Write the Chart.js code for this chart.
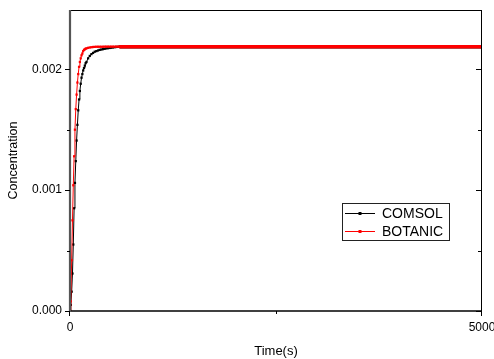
<!DOCTYPE html>
<html>
<head>
<meta charset="utf-8">
<script src="https://cdn.jsdelivr.net/npm/chart.js@4.4.0/dist/chart.umd.min.js"></script>
<style>
  html, body { margin: 0; padding: 0; background: #fff; }
</style>
</head>
<body>
<canvas id="chart" width="494" height="359"></canvas>
<script>
// time samples (s)
var times = [0, 10, 20, 30, 40, 50, 60, 70, 80, 90, 100, 110, 120, 130, 140, 150, 160, 170, 180, 190, 200,
  220, 240, 260, 280, 300, 320, 340, 360, 380, 400, 420, 440, 460, 480, 500, 520, 540, 560, 580, 600,
  700, 800, 900, 1000, 1500, 2000, 2500, 3000, 3500, 4000, 4500, 5000];

// concentration
var comsol = [0, 0.00005, 0.00016, 0.00031, 0.00055, 0.00085, 0.00106, 0.00124, 0.00141, 0.00154, 0.00166,
  0.00175, 0.00182, 0.00188, 0.00193, 0.00196, 0.00199, 0.00201, 0.00203, 0.00205, 0.00206,
  0.00209, 0.00211, 0.002125, 0.002135, 0.002145, 0.00215, 0.002155, 0.00216, 0.002163, 0.002166,
  0.002169, 0.002172, 0.002174, 0.002176, 0.002178, 0.00218, 0.002182, 0.002184, 0.002185, 0.002186,
  0.002187, 0.002187, 0.002187, 0.002187, 0.002187, 0.002187, 0.002187, 0.002187, 0.002187, 0.002187, 0.002187, 0.002187];

var botanic = [0, 0.00008, 0.00042, 0.00075, 0.00104, 0.00128, 0.0015, 0.00167, 0.00179, 0.00189, 0.00196,
  0.00202, 0.00206, 0.00209, 0.002115, 0.00213, 0.00215, 0.00216, 0.002165, 0.00217, 0.002173,
  0.002177, 0.00218, 0.002182, 0.002184, 0.002185, 0.002186, 0.002186, 0.002186, 0.002186, 0.002186,
  0.002187, 0.002187, 0.002187, 0.002187, 0.002187, 0.002187, 0.002187, 0.002187, 0.002187, 0.002187,
  0.002187, 0.002187, 0.002187, 0.002187, 0.002187, 0.002187, 0.002187, 0.002187, 0.002187, 0.002187, 0.002187, 0.002187];

var seriesNames = ['COMSOL', 'BOTANIC'];
var xMajor = [0, 5000];
var xMinor = [2500];
var yMajor = [0, 0.001, 0.002];
var yMinor = [0.0005, 0.0015];

Chart.defaults.font.family = '"Liberation Sans", Arial, sans-serif';
Chart.defaults.color = '#000';

function pts(vals) {
  return times.map(function (t, i) { return { x: t, y: vals[i] }; });
}

var pointR = function (c) { return (c.raw && c.raw.x > 600) ? 0 : 1.6; };
var segW = { borderWidth: function (c) { return c.p0.parsed.x >= 600 ? 3.5 : 1; } };

// axes box, ticks and legend like the Origin plot
var framePlugin = {
  id: 'frame',
  afterDraw: function (chart) {
    var ctx = chart.ctx, a = chart.chartArea;
    var xs = chart.scales.x, ys = chart.scales.y;
    ctx.save();
    ctx.strokeStyle = '#000';
    ctx.lineWidth = 1;
    ctx.beginPath();
    ctx.moveTo(a.left, a.top + 0.5); ctx.lineTo(a.right, a.top + 0.5);
    ctx.moveTo(a.right - 0.5, a.top); ctx.lineTo(a.right - 0.5, a.bottom);
    ctx.stroke();
    ctx.lineWidth = 1.5;
    ctx.beginPath();
    ctx.moveTo(a.left, a.bottom); ctx.lineTo(a.right, a.bottom);
    ctx.stroke();
    ctx.strokeStyle = '#555';
    ctx.lineWidth = 2.2;
    ctx.beginPath();
    ctx.moveTo(a.left, a.top); ctx.lineTo(a.left, a.bottom + 1);
    ctx.stroke();

    ctx.strokeStyle = '#000';
    ctx.lineWidth = 1;
    ctx.beginPath();
    yMajor.forEach(function (v) {
      var y = Math.round(ys.getPixelForValue(v)) + 0.5;
      ctx.moveTo(a.left - 5, y); ctx.lineTo(a.left, y);
      ctx.moveTo(a.right - 6, y); ctx.lineTo(a.right, y);
    });
    yMinor.forEach(function (v) {
      var y = Math.round(ys.getPixelForValue(v)) + 0.5;
      ctx.moveTo(a.left - 3, y); ctx.lineTo(a.left, y);
      ctx.moveTo(a.right - 4, y); ctx.lineTo(a.right, y);
    });
    xMajor.forEach(function (v) {
      var x = Math.round(xs.getPixelForValue(v)) - 0.5;
      ctx.moveTo(x, a.bottom); ctx.lineTo(x, a.bottom + 5);
    });
    xMinor.forEach(function (v) {
      var x = Math.round(xs.getPixelForValue(v)) + 0.5;
      ctx.moveTo(x, a.bottom); ctx.lineTo(x, a.bottom + 3);
    });
    ctx.stroke();

    // legend
    var lx = 342.5, ly = 203.5, lw = 107, lh = 37;
    ctx.fillStyle = '#fff';
    ctx.fillRect(lx, ly, lw, lh);
    ctx.strokeStyle = '#222';
    ctx.lineWidth = 1;
    ctx.strokeRect(lx, ly, lw, lh);
    var cols = ['#000', '#ff0000'];
    var rows = [213.5, 231.5];
    ctx.font = '14px "Liberation Sans", Arial, sans-serif';
    ctx.textBaseline = 'middle';
    ctx.textAlign = 'left';
    seriesNames.forEach(function (n, i) {
      ctx.strokeStyle = cols[i];
      ctx.beginPath();
      ctx.moveTo(345, rows[i]); ctx.lineTo(375, rows[i]);
      ctx.stroke();
      ctx.fillStyle = cols[i];
      ctx.fillRect(358.5, rows[i] - 1.5, 3, 3);
      ctx.fillStyle = '#000';
      ctx.fillText(n, 382, rows[i] + 0.5);
    });
    ctx.restore();
  }
};

new Chart(document.getElementById('chart'), {
  type: 'line',
  data: {
    datasets: [
      {
        label: seriesNames[1],
        data: pts(botanic),
        borderColor: '#ff0000',
        backgroundColor: '#ff0000',
        borderWidth: 1,
        pointStyle: 'rect',
        pointRadius: pointR,
        pointBorderWidth: 0,
        segment: segW
      },
      {
        label: seriesNames[0],
        data: pts(comsol),
        borderColor: '#000',
        backgroundColor: '#000',
        borderWidth: 1,
        pointStyle: 'rect',
        pointRadius: pointR,
        pointBorderWidth: 0,
        segment: segW
      }
    ]
  },
  options: {
    responsive: false,
    animation: false,
    layout: { padding: { top: 10, right: 12, left: 0, bottom: 0 } },
    plugins: { legend: { display: false }, tooltip: { enabled: false } },
    scales: {
      x: {
        type: 'linear',
        min: 0,
        max: 5000,
        afterBuildTicks: function (s) { s.ticks = xMajor.map(function (v) { return { value: v }; }); },
        afterFit: function (s) { s.height = 48; s.paddingLeft = 0; s.paddingRight = 0; },
        ticks: { font: { size: 12 }, padding: 9, maxRotation: 0, callback: function (v) { return String(v); } },
        grid: { display: false, drawTicks: false },
        border: { display: false },
        title: { display: true, text: 'Time(s)', font: { size: 13 }, padding: { top: 0, bottom: 0 } }
      },
      y: {
        min: 0,
        max: 0.00249,
        afterBuildTicks: function (s) { s.ticks = yMajor.map(function (v) { return { value: v }; }); },
        afterFit: function (s) { s.width = 70; s.paddingTop = 0; s.paddingBottom = 0; },
        ticks: { font: { size: 12 }, padding: 8, callback: function (v) { return v.toFixed(3); } },
        grid: { display: false, drawTicks: false },
        border: { display: false },
        title: { display: true, text: 'Concentration', font: { size: 12.5 }, padding: { top: 6, bottom: 0 } }
      }
    }
  },
  plugins: [framePlugin]
});
</script>
</body>
</html>
